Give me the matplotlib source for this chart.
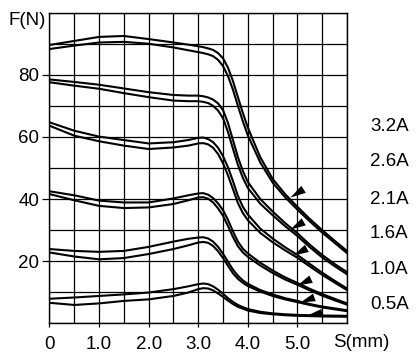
import numpy as np
import matplotlib
matplotlib.use('Agg')
import matplotlib.pyplot as plt
from matplotlib.path import Path

plt.rcParams['font.family'] = ['Liberation Sans', 'DejaVu Sans']

# displacement S (mm)
s = [0, 0.5, 1.0, 1.5, 2.0, 2.5, 2.8, 3.0, 3.1, 3.2, 3.3, 3.4, 3.5, 3.6, 3.7, 3.8, 3.9,
     4.0, 4.25, 4.5, 4.75, 5.0, 5.25, 5.5, 5.75, 6.0]

# force F (N), upper and lower branch of each hysteresis pair
f32_up = [89.6, 90.9, 92.2, 92.5, 91.5, 90.4, 89.7, 89.2, 88.9, 88.5, 88.0, 87.0, 85.3, 82.3,
          78.0, 72.8, 67.7, 63.0, 53.5, 46.5, 41.6, 37.5, 33.6, 30.0, 26.6, 23.3]
f32_dn = [88.3, 89.4, 90.4, 90.6, 90.0, 88.8, 87.9, 87.3, 87.0, 86.6, 86.0, 84.8, 82.8, 79.6,
          75.2, 70.0, 65.0, 60.5, 51.8, 45.3, 40.6, 36.6, 32.8, 29.2, 25.9, 22.6]
f26_up = [78.5, 77.7, 76.8, 75.6, 74.4, 73.5, 73.3, 73.3, 73.1, 72.7, 72.0, 70.8, 68.6, 64.5,
          59.0, 53.5, 49.0, 45.5, 40.0, 36.0, 32.3, 29.0, 25.3, 22.0, 19.1, 16.5]
f26_dn = [77.6, 76.5, 75.5, 74.1, 72.8, 71.7, 71.5, 71.5, 71.3, 70.9, 70.0, 68.5, 66.0, 61.6,
          56.2, 51.0, 46.8, 43.6, 38.5, 34.8, 31.3, 28.1, 24.5, 21.2, 18.4, 15.8]
f21_up = [64.7, 62.0, 60.1, 59.0, 57.9, 58.3, 59.0, 59.7, 59.8, 59.3, 58.3, 56.5, 53.8, 50.2,
          45.8, 41.0, 37.5, 35.0, 30.5, 27.3, 24.5, 22.0, 19.1, 16.3, 13.7, 11.2]
f21_dn = [63.6, 60.4, 58.6, 57.2, 56.1, 56.6, 57.2, 57.9, 58.0, 57.6, 56.5, 54.5, 51.5, 47.6,
          43.2, 38.7, 35.5, 33.2, 29.1, 26.1, 23.5, 21.1, 18.3, 15.6, 13.1, 10.7]
f16_up = [42.5, 41.2, 39.5, 38.9, 38.9, 40.2, 41.2, 41.8, 41.9, 41.4, 40.3, 38.6, 36.4, 33.3,
          29.6, 26.3, 24.0, 22.5, 19.5, 17.0, 14.8, 13.0, 11.1, 9.4, 7.9, 6.4]
f16_dn = [41.6, 39.6, 37.8, 37.1, 37.3, 38.4, 39.6, 40.5, 40.6, 40.1, 38.9, 37.0, 34.6, 31.3,
          27.8, 24.8, 22.8, 21.4, 18.6, 16.2, 14.1, 12.4, 10.6, 8.9, 7.4, 6.0]
f10_up = [23.9, 23.3, 23.0, 23.3, 24.6, 26.3, 27.2, 27.6, 27.7, 27.3, 26.3, 24.6, 22.4, 19.8,
          17.3, 15.3, 13.8, 12.7, 10.7, 9.3, 8.1, 7.2, 6.2, 5.4, 4.8, 4.2]
f10_dn = [22.8, 21.5, 20.6, 21.0, 22.3, 23.9, 25.1, 26.0, 26.2, 25.9, 24.9, 23.2, 21.0, 18.5,
          16.1, 14.3, 13.0, 12.0, 10.2, 8.8, 7.7, 6.8, 5.9, 5.1, 4.5, 3.9]
f05_up = [7.9, 8.3, 8.8, 9.3, 9.9, 11.0, 11.9, 12.6, 12.8, 12.6, 11.9, 10.8, 9.5, 8.1,
          6.9, 5.9, 5.2, 4.6, 3.7, 3.2, 2.9, 2.7, 2.6, 2.5, 2.45, 2.4]
f05_dn = [6.6, 5.9, 6.4, 7.2, 7.7, 8.8, 9.9, 11.0, 11.3, 11.2, 10.6, 9.6, 8.5, 7.3,
          6.2, 5.3, 4.7, 4.1, 3.3, 2.9, 2.6, 2.4, 2.3, 2.2, 2.15, 2.1]

currents = ['3.2A', '2.6A', '2.1A', '1.6A', '1.0A', '0.5A']
pairs = [(f32_up, f32_dn), (f26_up, f26_dn), (f21_up, f21_dn),
         (f16_up, f16_dn), (f10_up, f10_dn), (f05_up, f05_dn)]

# arrow marks on each curve
arrow_s = [4.85, 4.85, 4.92, 5.0, 5.05, 5.2]
arrow_f = [40.5, 30.5, 22.0, 12.2, 7.0, 2.6]
arrow_angle = [32, 30, 28, 25, 20, 10]

x_ticks = [0, 1, 2, 3, 4, 5]
x_ticklabels = ['0', '1.0', '2.0', '3.0', '4.0', '5.0']
y_ticks = [20, 40, 60, 80]
y_ticklabels = ['20', '40', '60', '80']

FS = 13.5

fig = plt.figure(figsize=(4.17, 3.56), dpi=100)
ax = fig.add_axes([0.1187, 0.0919, 0.7134, 0.8725])

for up, dn in pairs:
    ax.plot(s, up, color='black', lw=1.5, solid_joinstyle='round', zorder=3)
    ax.plot(s, dn, color='black', lw=1.5, solid_joinstyle='round', zorder=3)

def wedge_marker(angle_deg):
    a = np.deg2rad(angle_deg)
    pts = np.array([[0.0, 0.0], [1.0, 0.27], [1.0, -0.27], [0.0, 0.0]])
    R = np.array([[np.cos(a), -np.sin(a)], [np.sin(a), np.cos(a)]])
    pts = pts @ R.T
    return Path(pts, [Path.MOVETO, Path.LINETO, Path.LINETO, Path.CLOSEPOLY])

for xs, ys, ang in zip(arrow_s, arrow_f, arrow_angle):
    ax.plot([xs], [ys], marker=wedge_marker(ang), markersize=22,
            color='black', markeredgewidth=0, linestyle='none', zorder=4)

ax.set_xlim(0, 6)
ax.set_ylim(0, 100)
ax.set_xticks(x_ticks)
ax.set_xticklabels(x_ticklabels)
ax.set_xticks(np.arange(0, 6.01, 0.5), minor=True)
ax.set_yticks(y_ticks)
ax.set_yticklabels(y_ticklabels)
ax.set_yticks(np.arange(0, 100.1, 10), minor=True)
ax.grid(which='both', color='black', lw=0.9)
ax.set_axisbelow(True)
ax.tick_params(axis='x', which='major', length=3, width=0.9, pad=6, labelsize=FS)
ax.tick_params(axis='y', which='major', length=4.7, width=0.9, pad=2.5, labelsize=FS)
ax.tick_params(which='minor', length=0)
for sp in ax.spines.values():
    sp.set_color('black')
    sp.set_linewidth(1.0)

ax.text(-0.012, 0.975, 'F(N)', transform=ax.transAxes, ha='right', va='center', fontsize=FS)
ax.text(1.049, -0.033, 'S(mm)', transform=ax.transAxes, ha='center', va='top', fontsize=FS)

label_y = [0.633, 0.520, 0.399, 0.288, 0.172, 0.059]
for lab, yy in zip(currents, label_y):
    ax.text(1.077, yy, lab, transform=ax.transAxes, ha='left', va='center', fontsize=FS)

fig.savefig('out.png', dpi=100)
